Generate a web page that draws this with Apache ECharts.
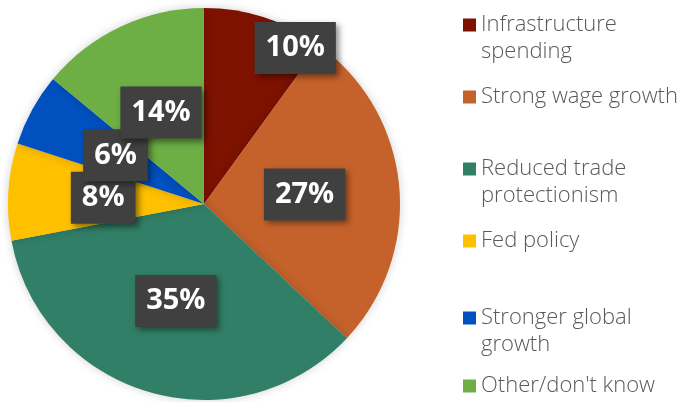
<!DOCTYPE html>
<html>
<head>
<meta charset="utf-8">
<script src="https://cdn.jsdelivr.net/npm/echarts@6/dist/echarts.min.js"></script>
<style>
  html, body { margin: 0; padding: 0; background: #fff; }
  #chart { width: 681px; height: 402px; }
</style>
</head>
<body>
<div id="chart"></div>
<script>
var categories = [
  'Infrastructure\nspending',
  'Strong wage growth',
  'Reduced trade\nprotectionism',
  'Fed policy',
  'Stronger global\ngrowth',
  "Other/don't know"
];
var shares = [10, 27, 35, 8, 6, 14];
var colors = ['#7e1200', '#c5622b', '#317f66', '#ffc000', '#0050c0', '#6dae45'];

// legend rows: centre y of each icon
var legendRowY = [25, 97, 169, 241, 318, 386];

var chart = echarts.init(document.getElementById('chart'));

var legends = categories.map(function(name, i) {
  var twoLines = name.indexOf('\n') >= 0;
  return {
    orient: 'vertical',
    left: 463,
    top: legendRowY[i] - (twoLines ? 40.5 : 13.5),
    padding: 0,
    itemWidth: 13,
    itemHeight: 13,
    itemGap: 0,
    icon: 'rect',
    selectedMode: false,
    data: [name],
    // a blank first line keeps the icon level with the first text line
    formatter: function(n) {
      return n.indexOf('\n') >= 0 ? ' \n' + n : n;
    },
    textStyle: {
      fontFamily: 'Open Sans',
      fontWeight: 300,
      fontSize: 22,
      lineHeight: 27,
      color: '#595959'
    }
  };
});

var data = categories.map(function(name, i) {
  var item = {name: name, value: shares[i], itemStyle: {color: colors[i]}};
  if (i === 0) {
    item.label = {offset: [60, -60]};
  }
  return item;
});

chart.setOption({
  animation: false,
  legend: legends,
  series: [{
    type: 'pie',
    center: [204, 204],
    radius: [0, 196],
    startAngle: 90,
    clockwise: true,
    avoidLabelOverlap: false,
    labelLayout: {hideOverlap: false},
    itemStyle: {
      shadowBlur: 10,
      shadowColor: 'rgba(0,0,0,0.18)'
    },
    label: {
      show: true,
      position: 'inside',
      formatter: '{c}%',
      fontFamily: 'Open Sans',
      fontWeight: 'bold',
      fontSize: 29,
      color: '#fff',
      backgroundColor: '#404040',
      padding: [10, 11, 10, 11],
      lineHeight: 32,
      shadowColor: 'rgba(0,0,0,0.45)',
      shadowBlur: 6,
      shadowOffsetX: 3,
      shadowOffsetY: 3
    },
    labelLine: {show: false},
    emphasis: {disabled: true},
    data: data
  }]
});
</script>
</body>
</html>
